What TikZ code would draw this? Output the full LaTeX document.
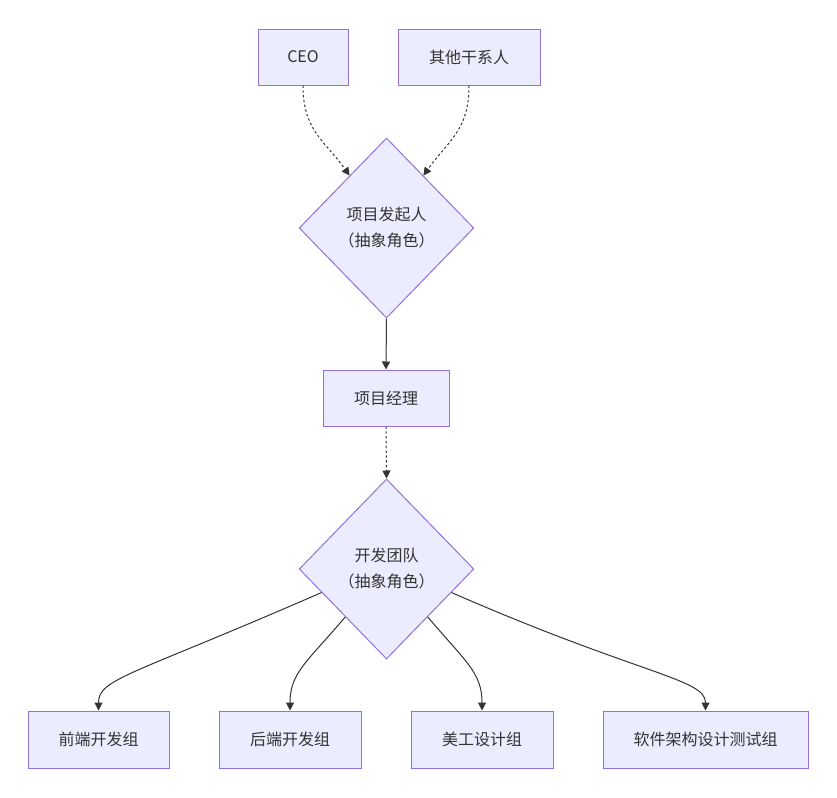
\documentclass[tikz,border=0pt]{standalone}
\usepackage{fontspec}
\setmainfont{Noto Sans CJK SC}
\usetikzlibrary{shapes.geometric,arrows.meta,calc}
\definecolor{nodefill}{HTML}{ECECFF}
\definecolor{nodeline}{HTML}{9370DB}
\definecolor{ink}{HTML}{333333}
\begin{document}
\begin{tikzpicture}[x=0.75pt,y=-0.75pt,
  every node/.style={font=\fontsize{12pt}{19.5pt}\selectfont, text=ink},
  box/.style={draw=nodeline, fill=nodefill, line width=0.75pt, rectangle, minimum height=42pt, inner sep=0pt},
  dia/.style={draw=nodeline, fill=nodefill, line width=0.75pt, diamond, minimum width=131pt, minimum height=135pt, inner sep=0pt, align=center},
  link/.style={draw=ink, line width=0.75pt, -{Triangle[length=6pt,width=6pt]}},
  dotlink/.style={link, dash pattern=on 1.8pt off 1.8pt}]
\useasboundingbox (0,0) rectangle (837,797);
\node[box, minimum width=67.5pt] (ceo) at (303,57) {CEO};
\node[box, minimum width=106.5pt] (other) at (469,57) {其他干系人};
\node[dia] (d1) at (386.5,228) {项目发起人\\（抽象角色）};
\node[box, minimum width=94.5pt] (pm) at (386,398) {项目经理};
\node[dia] (d2) at (386.5,569) {开发团队\\（抽象角色）};
\node[box, minimum width=105.75pt, minimum height=42.75pt] (fe) at (98.5,739.5) {前端开发组};
\node[box, minimum width=106.5pt, minimum height=42.75pt] (be) at (290,739.5) {后端开发组};
\node[box, minimum width=106.5pt, minimum height=42.75pt] (art) at (482,739.5) {美工设计组};
\node[box, minimum width=153.75pt, minimum height=42.75pt] (arch) at (705.5,739.5) {软件架构设计测试组};
\coordinate (d1l) at ($(d1.north)!0.42!(d1.west)$);
\coordinate (d1r) at ($(d1.north)!0.42!(d1.east)$);
\coordinate (s1) at ($(d2.west)!0.26!(d2.south)$);
\coordinate (s2) at ($(d2.west)!0.53!(d2.south)$);
\coordinate (s3) at ($(d2.east)!0.53!(d2.south)$);
\coordinate (s4) at ($(d2.east)!0.26!(d2.south)$);
\draw[dotlink] (ceo.south) .. controls ($(ceo.south)+(0,45)$) and ($(d1l)+(-25,-35)$) .. (d1l);
\draw[dotlink] (other.south) .. controls ($(other.south)+(0,45)$) and ($(d1r)+(25,-35)$) .. (d1r);
\draw[link] (d1.south) -- (pm.north);
\draw[dotlink] (pm.south) -- (d2.north);
\draw[link] (s1) .. controls ($(s1)+(-190,83)$) and ($(fe.north)+(0,-32)$) .. (fe.north);
\draw[link] (s2) .. controls ($(s2)+(-38,45)$) and ($(be.north)+(0,-38)$) .. (be.north);
\draw[link] (s3) .. controls ($(s3)+(38,45)$) and ($(art.north)+(0,-38)$) .. (art.north);
\draw[link] (s4) .. controls ($(s4)+(190,83)$) and ($(arch.north)+(0,-32)$) .. (arch.north);
\end{tikzpicture}
\end{document}
